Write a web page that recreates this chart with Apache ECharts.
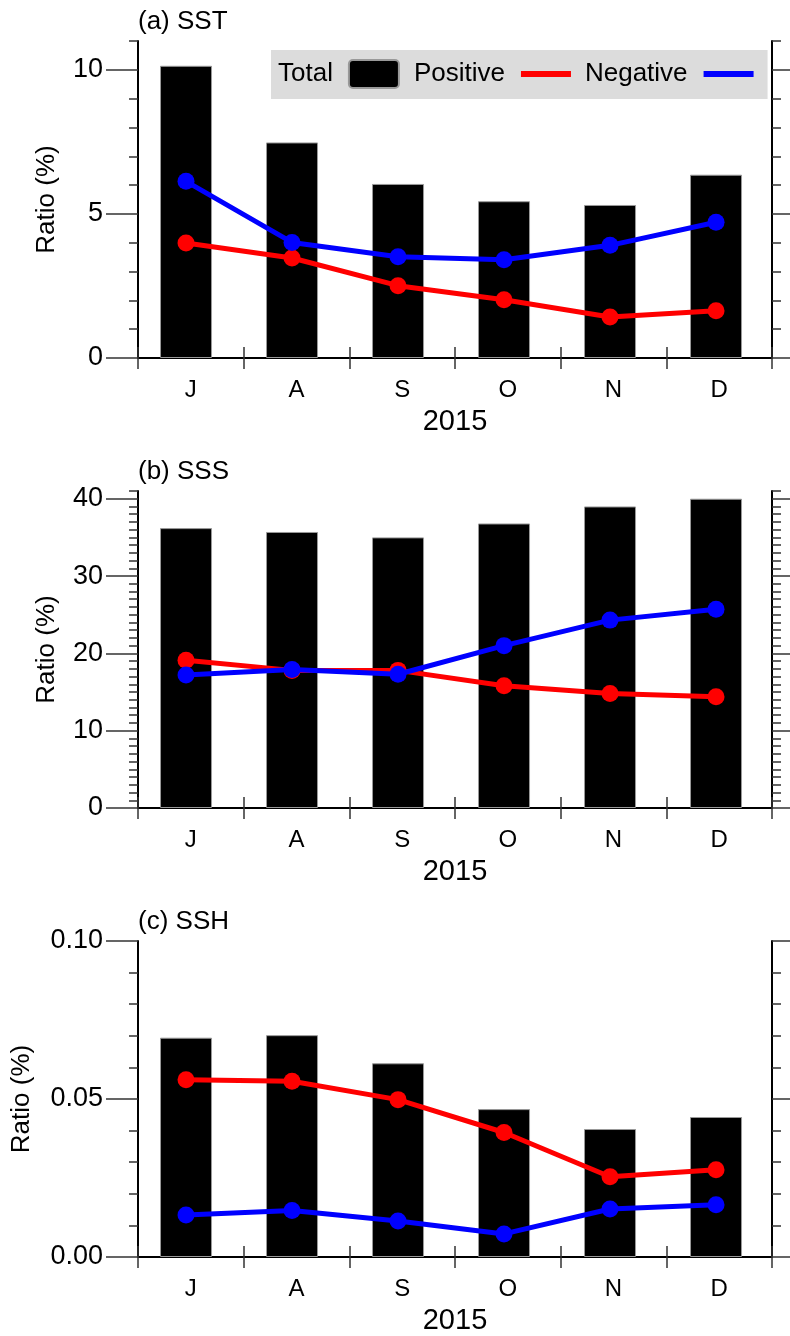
<!DOCTYPE html>
<html>
<head>
<meta charset="utf-8">
<script src="https://cdn.jsdelivr.net/npm/echarts@6/dist/echarts.min.js"></script>
<style>
html,body{margin:0;padding:0;background:#fff;}
#chart{width:790px;height:1336px;}
</style>
</head>
<body>
<div id="chart"></div>
<script>
// ---- data ----
const months = ['J', 'A', 'S', 'O', 'N', 'D'];
const monthPos = [1, 2, 3, 4, 5, 6];
const seriesNames = ['Total', 'Positive', 'Negative'];
const panelTitles = ['(a) SST', '(b) SSS', '(c) SSH'];
const yearLabel = '2015';
const yName = 'Ratio (%)';

const sstTotal = [10.14, 7.48, 6.04, 5.44, 5.31, 6.36];
const sstPositive = [3.99, 3.47, 2.51, 2.02, 1.42, 1.64];
const sstNegative = [6.13, 4.01, 3.51, 3.41, 3.91, 4.71];

const sssTotal = [36.2, 35.7, 35.0, 36.8, 39.0, 40.0];
const sssPositive = [19.1, 17.8, 17.8, 15.8, 14.8, 14.4];
const sssNegative = [17.2, 17.9, 17.3, 21.0, 24.3, 25.7];

const sshTotal = [0.0694, 0.0702, 0.0613, 0.0468, 0.0405, 0.0443];
const sshPositive = [0.0561, 0.0556, 0.0498, 0.0394, 0.0254, 0.0276];
const sshNegative = [0.0133, 0.0147, 0.0114, 0.0073, 0.0152, 0.0165];

const sstMajorTicks = [0, 5, 10];
const sssMajorTicks = [0, 10, 20, 30, 40];
const sshMajorTicks = [0, 0.05, 0.10];

// ---- layout / style ----
const FONT = 'Liberation Sans, Arial, Helvetica, sans-serif';
const panels = [
  { top: 41, total: sstTotal, pos: sstPositive, neg: sstNegative, max: 11, major: sstMajorTicks, minor: 1, digits: 0, nameGap: 78 },
  { top: 491, total: sssTotal, pos: sssPositive, neg: sssNegative, max: 41, major: sssMajorTicks, minor: 1, digits: 0, nameGap: 78 },
  { top: 941, total: sshTotal, pos: sshPositive, neg: sshNegative, max: 0.10, major: sshMajorTicks, minor: 0.01, digits: 2, nameGap: 103 }
];
const GL = 138, GW = 634, GH = 317;

const grid = [], xAxis = [], yAxis = [], series = [], graphic = [];
const pair = arr => arr.map((v, i) => [monthPos[i], v]);

panels.forEach((p, k) => {
  grid.push({ left: GL, top: p.top, width: GW, height: GH, containLabel: false });
  // hidden value axis for marks
  xAxis.push({ gridIndex: k, type: 'value', min: 0.547, max: 6.528, show: false });
  // bottom category axis
  xAxis.push({
    gridIndex: k, type: 'category', position: 'bottom', data: months, boundaryGap: true,
    axisLine: { show: true, lineStyle: { color: '#000', width: 2 } },
    axisTick: { show: true, inside: false, length: 11, lineStyle: { color: '#333', width: 1.5 } },
    axisLabel: { show: true, margin: 20, fontSize: 24, color: '#000', fontFamily: FONT },
    splitLine: { show: false },
    name: yearLabel, nameLocation: 'middle', nameGap: 49,
    nameTextStyle: { fontSize: 29, color: '#000', fontFamily: FONT }
  });
  // top category axis
  xAxis.push({
    gridIndex: k, type: 'category', position: 'top', data: months, boundaryGap: true,
    axisLine: { show: true, lineStyle: { color: '#000', width: 2 } },
    axisTick: { show: true, inside: false, length: 11, lineStyle: { color: '#333', width: 1.5 } },
    axisLabel: { show: false }, splitLine: { show: false }
  });
  const fmt = v => Number(v).toFixed(p.digits);
  // left main
  yAxis.push({
    gridIndex: k, type: 'value', position: 'left', min: 0, max: p.max,
    interval: p.major[1],
    axisLine: { show: true, onZero: false, lineStyle: { color: '#000', width: 2 } },
    axisTick: { show: true, inside: false, length: 32, customValues: p.major, lineStyle: { color: '#333', width: 1.5 } },
    axisLabel: { show: true, margin: 35, fontSize: 27, color: '#000', fontFamily: FONT, customValues: p.major, formatter: fmt },
    splitLine: { show: false },
    name: yName, nameLocation: 'middle', nameGap: p.nameGap, nameRotate: 90,
    nameTextStyle: { fontSize: 26, color: '#000', fontFamily: FONT }
  });
  // left minor
  yAxis.push({
    gridIndex: k, type: 'value', position: 'left', min: 0, max: p.max, interval: p.minor,
    axisLine: { show: false },
    axisTick: { show: true, inside: false, length: 9, lineStyle: { color: '#333', width: 1.5 } },
    axisLabel: { show: false }, splitLine: { show: false }
  });
  // right main
  yAxis.push({
    gridIndex: k, type: 'value', position: 'right', min: 0, max: p.max, interval: p.major[1],
    axisLine: { show: true, onZero: false, lineStyle: { color: '#000', width: 2 } },
    axisTick: { show: true, inside: false, length: 32, customValues: p.major, lineStyle: { color: '#333', width: 1.5 } },
    axisLabel: { show: false }, splitLine: { show: false }
  });
  // right minor
  yAxis.push({
    gridIndex: k, type: 'value', position: 'right', min: 0, max: p.max, interval: p.minor,
    axisLine: { show: false },
    axisTick: { show: true, inside: false, length: 9, lineStyle: { color: '#333', width: 1.5 } },
    axisLabel: { show: false }, splitLine: { show: false }
  });

  const xi = 3 * k, yi = 4 * k;
  series.push({
    name: seriesNames[0], type: 'bar', xAxisIndex: xi, yAxisIndex: yi,
    data: pair(p.total), barWidth: 52,
    itemStyle: { color: '#000', borderColor: '#999', borderWidth: 1 }, z: 2
  });
  series.push({
    name: seriesNames[1], type: 'line', xAxisIndex: xi, yAxisIndex: yi,
    data: pair(p.pos), symbol: 'circle', symbolSize: 17,
    lineStyle: { color: '#ff0000', width: 5 }, itemStyle: { color: '#ff0000' }, z: 3
  });
  series.push({
    name: seriesNames[2], type: 'line', xAxisIndex: xi, yAxisIndex: yi,
    data: pair(p.neg), symbol: 'circle', symbolSize: 17,
    lineStyle: { color: '#0000ff', width: 5 }, itemStyle: { color: '#0000ff' }, z: 4
  });

  graphic.push({
    type: 'text', left: GL, top: p.top - 32,
    style: { text: panelTitles[k], fontSize: 26, fontFamily: FONT, fill: '#000' }
  });
});

const chart = echarts.init(document.getElementById('chart'), null, { renderer: 'canvas' });
chart.setOption({
  animation: false,
  backgroundColor: '#fff',
  grid, xAxis, yAxis, series, graphic,
  legend: {
    left: 271, top: 50, width: 700, orient: 'horizontal', align: 'right',
    backgroundColor: '#dcdcdc', padding: [9, 14, 10, 7],
    itemWidth: 50, itemHeight: 28, itemGap: 14, selectedMode: false,
    textStyle: { fontSize: 26, color: '#000', fontFamily: FONT, padding: [0, 11, 0, 0] },
    data: [
      { name: seriesNames[0], icon: 'path://M4,0 H46 A4,4 0 0 1 50,4 V24 A4,4 0 0 1 46,28 H4 A4,4 0 0 1 0,24 V4 A4,4 0 0 1 4,0 Z' },
      { name: seriesNames[1], icon: 'path://M0,0 H50 V6 H0 Z' },
      { name: seriesNames[2], icon: 'path://M0,0 H50 V6 H0 Z' }
    ]
  }
});
</script>
</body>
</html>
